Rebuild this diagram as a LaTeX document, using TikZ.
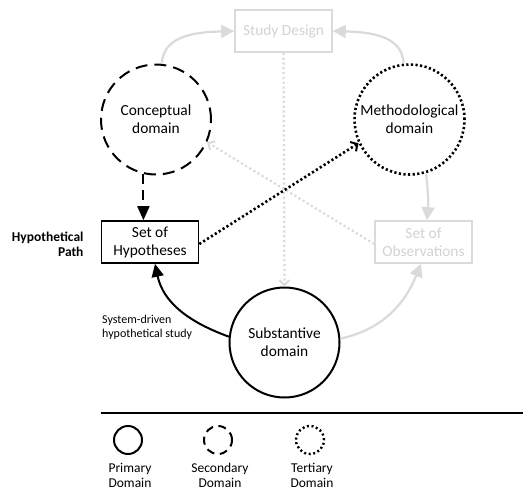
\documentclass[tikz,border=0pt]{standalone}
\usepackage{fontspec}
\setmainfont{Carlito}
\usetikzlibrary{arrows.meta}
\definecolor{lg}{HTML}{DADADA}
\definecolor{lgt}{HTML}{D2D2D2}
\tikzset{
  dom/.style={circle,draw,line width=2pt,minimum size=110pt,inner sep=0pt,align=center,font=\fontsize{15.4}{18}\selectfont},
  bx/.style={rectangle,draw,line width=1.6pt,minimum width=97pt,minimum height=42pt,inner sep=0pt,align=center,font=\fontsize{15.4}{18}\selectfont},
  gbx/.style={bx,draw=lg,text=lgt},
  prim/.style={dom},
  sec/.style={dom,dash pattern=on 12pt off 7pt},
  ter/.style={dom,line width=2.6pt,dash pattern=on 2.2pt off 2.4pt},
  garr/.style={draw=lg,line width=2.2pt,-{Triangle[length=13pt,width=13pt]}},
  gdot/.style={draw=lg,line width=2.2pt,dash pattern=on 2.2pt off 2.6pt,-{Straight Barb[length=5pt,width=10pt,line width=2pt]}},
  lgd/.style={circle,draw,line width=2pt,minimum size=28pt,inner sep=0pt},
  lbl/.style={align=center,font=\fontsize{13.5}{15}\selectfont},
}
\begin{document}
\begin{tikzpicture}[x=1pt,y=-1pt]
\useasboundingbox (0,0) rectangle (523,490);
\node[gbx] (sd) at (283.5,31) {Study Design};
\node[sec] (conc) at (156,119.5) {Conceptual\\domain};
\node[ter] (meth) at (409.5,119.5) {Methodological\\domain};
\node[bx] (hyp) at (150,242) {Set of\\Hypotheses};
\node[gbx] (obs) at (423.5,242) {Set of\\Observations};
\node[prim] (sub) at (284.5,342.5) {Substantive\\domain};

\node[anchor=east,align=right,font=\bfseries\fontsize{13.5}{15}\selectfont] (hp) at (87,244.5) {Hypothetical\\Path};
\node[anchor=west,align=left,font=\fontsize{12}{14}\selectfont,inner sep=0pt] (sdl) at (102,327) {System-driven\\hypothetical study};

% gray connectors
\draw[garr] (conc.84) to[out=88,in=182] (sd.west);
\draw[garr] (meth.96) to[out=92,in=-2] (sd.east);
\draw[garr] (meth.-73) to[bend left=6] ([xshift=3.5pt]obs.north);
\draw[garr] (sub.4) to[out=12,in=-112] ([xshift=-2.5pt]obs.south);
\draw[gdot] (sd.south) -- (sub.north);
\draw[gdot] ([yshift=-2pt]obs.west) -- (conc.-24);

% black connectors
\draw[line width=2pt,dash pattern=on 10pt off 6pt,-{Triangle[length=14pt,width=12pt]}] (conc.-103) -- (conc.-103 |- hyp.north);
\draw[line width=2.6pt,dash pattern=on 2.2pt off 2.4pt,-{Straight Barb[length=5pt,width=11pt,line width=2pt]}] ([yshift=-2pt]hyp.east) -- (meth.205);
\draw[line width=2pt,-{Triangle[length=13pt,width=12pt]}] (sub.174) to[out=160,in=-78] ([xshift=5pt]hyp.south);

% legend
\coordinate (l1) at (100.7,413);
\coordinate (l2) at (523,413);
\draw[line width=1.6pt] (l1) -- (l2);
\node[lgd] (p1) at (128,440) {};
\node[lgd,dash pattern=on 8pt off 5.5pt] (p2) at (218,440) {};
\node[lgd,line width=2.4pt,dash pattern=on 2pt off 2.6pt] (p3) at (310,440) {};
\node[lbl] (t1) at (130,475.5) {Primary\\Domain};
\node[lbl] (t2) at (220,475.5) {Secondary\\Domain};
\node[lbl] (t3) at (312,475.5) {Tertiary\\Domain};
\end{tikzpicture}
\end{document}
